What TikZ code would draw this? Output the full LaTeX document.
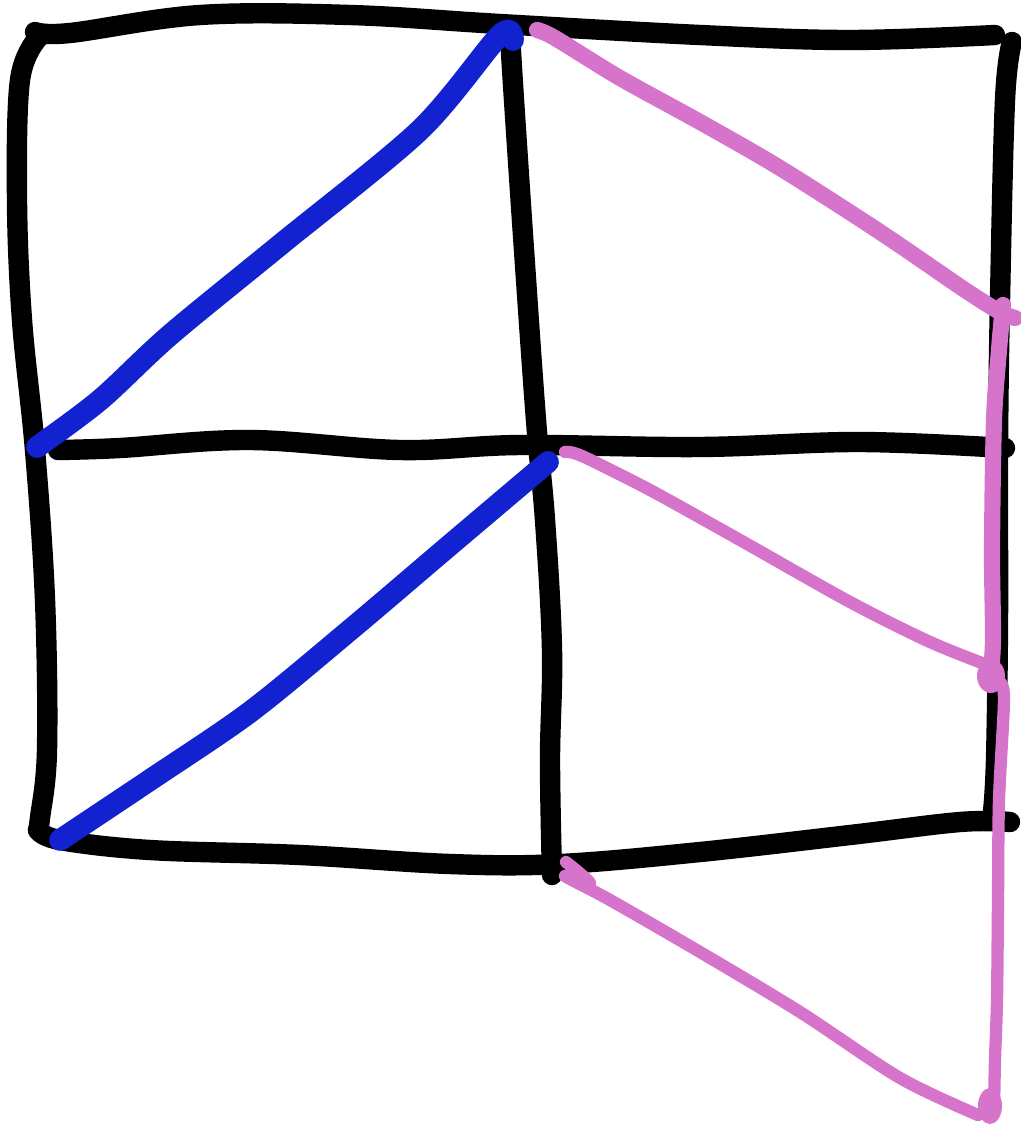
\documentclass[tikz,border=0pt]{standalone}
\usepackage{xcolor}
\usepackage{tikz}
\definecolor{penblue}{HTML}{1222D0}
\definecolor{penpink}{HTML}{D674CC}

\begin{document}
\begin{tikzpicture}[
    x=0.01cm, y=-0.01cm,
    gridline/.style={draw=black, line width=5.8pt, line cap=round, line join=round},
    bluestroke/.style={draw=penblue, line width=6.2pt, line cap=round, line join=round},
    pinkstroke/.style={draw=penpink, line width=4.6pt, line cap=round, line join=round},
    pinkthin/.style ={pinkstroke, line width=3.5pt}
  ]
    \useasboundingbox (0,0) rectangle (1020,1127);

    % --- black 2x2 grid ---
    % top edge
    \draw[gridline] plot[smooth, tension=0.6] coordinates
      {(35,32) (70,33) (200,15) (350,15) (500,24) (700,35) (850,40) (995,35)};
    % left edge
    \draw[gridline] plot[smooth, tension=0.6] coordinates
      {(38,38) (20,80) (17,200) (22,320) (35,450) (45,600) (47,750) (40,818) (38,830)};
    % right edge
    \draw[gridline] plot[smooth, tension=0.6] coordinates
      {(1012,42) (1005,100) (1000,300) (998,450) (998,620) (996,760) (993,812)};
    % middle horizontal
    \draw[gridline] plot[smooth, tension=0.6] coordinates
      {(58,450) (120,448) (250,440) (400,450) (520,445) (700,447) (860,442) (1005,448)};
    % middle vertical
    \draw[gridline] plot[smooth, tension=0.6] coordinates
      {(510,35) (514,100) (524,250) (536,420) (545,520) (552,650) (550,760) (552,875)};
    % bottom edge
    \draw[gridline] plot[smooth, tension=0.6] coordinates
      {(38,830) (60,840) (150,850) (300,855) (450,864) (560,864) (700,852) (850,835) (960,822) (1010,822)};

    % --- blue strokes ---
    \draw[bluestroke] plot[smooth, tension=0.5] coordinates
      {(37,447) (100,400) (170,335) (280,245) (420,130) (500,35) (513,40)};
    \draw[bluestroke] plot[smooth, tension=0.5] coordinates
      {(60,840) (150,780) (250,712) (350,630) (450,545) (548,462)};

    % --- pink strokes ---
    \draw[pinkstroke] plot[smooth, tension=0.5] coordinates
      {(537,30) (555,38) (620,78) (700,122) (780,168) (880,232) (965,290) (1000,312) (1015,318)};
    \draw[pinkstroke] plot[smooth, tension=0.5] coordinates
      {(1003,305) (999,350) (994,420) (992,550) (993,640) (990,682)};
    \fill[penpink] (991,676) ellipse (14 and 17);
    \draw[pinkthin] plot[smooth, tension=0.5] coordinates
      {(565,452) (582,456) (650,490) (740,540) (850,602) (930,642) (990,666)};
    \draw[pinkthin] plot[smooth, tension=0.5] coordinates
      {(1000,682) (1004,700) (999,800) (998,900) (997,1000) (995,1060) (994,1110)};
    \fill[penpink] (990,1106) ellipse (12 and 18);
    \draw[pinkthin] plot[smooth, tension=0.5] coordinates
      {(566,862) (590,883) (565,876) (610,900) (700,952) (800,1012) (900,1078) (978,1115)};
  \end{tikzpicture}
\end{document}
